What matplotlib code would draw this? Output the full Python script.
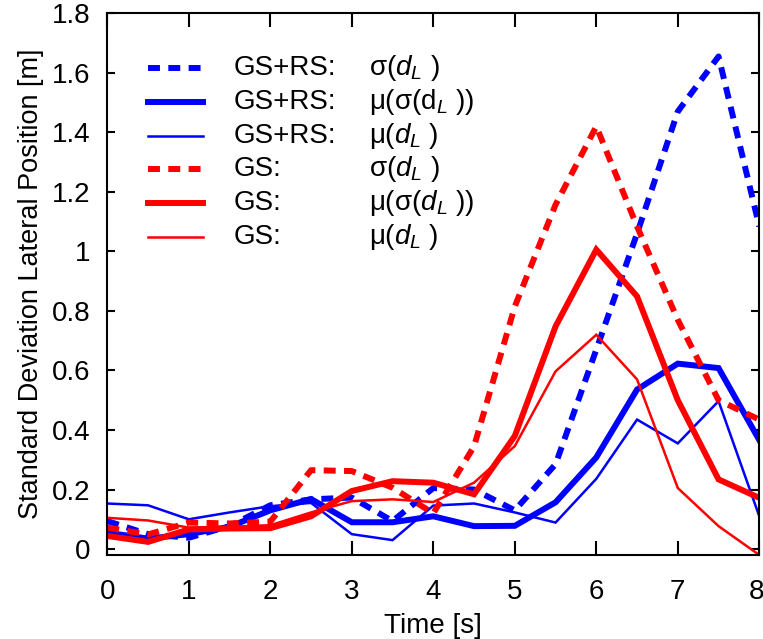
import matplotlib
matplotlib.use("Agg")
import matplotlib.pyplot as plt
import matplotlib.transforms as mtransforms
import numpy as np

plt.rcParams['font.family'] = ['Liberation Sans', 'DejaVu Sans']
plt.rcParams['mathtext.fontset'] = 'custom'
plt.rcParams['mathtext.rm'] = 'Liberation Sans'
plt.rcParams['mathtext.it'] = 'Liberation Sans:italic'

time = [0, 0.5, 1, 1.5, 2, 2.5, 3, 3.5, 4, 4.5, 5, 5.5, 6, 6.5, 7, 7.5, 8]

gsrs_sigma = [0.094, 0.05, 0.038, 0.077, 0.147, 0.167, 0.173, 0.094, 0.205, 0.2, 0.13, 0.285, 0.67, 1.06, 1.47, 1.655, 1.084]
gsrs_mu_sigma = [0.055, 0.035, 0.05, 0.075, 0.13, 0.168, 0.09, 0.09, 0.11, 0.077, 0.078, 0.157, 0.308, 0.536, 0.623, 0.608, 0.366]
gsrs_mu = [0.153, 0.147, 0.1, 0.123, 0.144, 0.155, 0.05, 0.03, 0.146, 0.153, 0.123, 0.089, 0.236, 0.435, 0.355, 0.497, 0.11]

gs_sigma = [0.072, 0.049, 0.089, 0.086, 0.092, 0.265, 0.262, 0.206, 0.12, 0.345, 0.815, 1.157, 1.42, 1.084, 0.77, 0.5, 0.435]
gs_mu_sigma = [0.044, 0.024, 0.066, 0.069, 0.07, 0.11, 0.195, 0.228, 0.223, 0.184, 0.38, 0.748, 1.006, 0.849, 0.5, 0.234, 0.172]
gs_mu = [0.105, 0.096, 0.072, 0.075, 0.08, 0.123, 0.161, 0.167, 0.158, 0.223, 0.346, 0.597, 0.72, 0.57, 0.205, 0.077, -0.02]

series = [
    (gsrs_sigma, 'blue', 4.3, 'dash', 'GS+RS:', r'σ($d_L$ )'),
    (gsrs_mu_sigma, 'blue', 4.3, 'solid', 'GS+RS:', r'μ(σ(d$_L$ ))'),
    (gsrs_mu, 'blue', 1.8, 'solid', 'GS+RS:', r'μ($d_L$ )'),
    (gs_sigma, 'red', 4.3, 'dash', 'GS:', r'σ($d_L$ )'),
    (gs_mu_sigma, 'red', 4.3, 'solid', 'GS:', r'μ(σ($d_L$ ))'),
    (gs_mu, 'red', 1.8, 'solid', 'GS:', r'μ($d_L$ )'),
]

FS = 20
W, H = 763, 639
fig = plt.figure(figsize=(W / 100, H / 100), dpi=100)
ax = fig.add_axes([107.3 / W, 1 - 555 / H, (759.3 - 107.3) / W, (555 - 13.3) / H])

for vals, col, lw, ls, _, _ in series:
    if ls == 'dash':
        ax.plot(time, vals, color=col, lw=lw, linestyle=(0, (2.0, 1.4)),
                dash_capstyle='butt', solid_joinstyle='miter')
    else:
        ax.plot(time, vals, color=col, lw=lw, solid_joinstyle='miter')

ax.set_xlim(0, 8)
ax.set_ylim(-0.02, 1.8)
ax.set_xticks(range(0, 9))
ax.set_yticks([0, 0.2, 0.4, 0.6, 0.8, 1.0, 1.2, 1.4, 1.6, 1.8])
ax.set_yticklabels(['0', '0.2', '0.4', '0.6', '0.8', '1', '1.2', '1.4', '1.6', '1.8'])
ax.tick_params(axis='x', direction='in', length=10, width=1.5, top=True, pad=17, labelsize=FS)
ax.tick_params(axis='y', direction='in', length=5.5, width=1.5, right=True, pad=12, labelsize=FS)
for s in ax.spines.values():
    s.set_linewidth(1.5)

# keep last x tick label inside the figure
lastlab = ax.get_xticklabels()[-1]
lastlab.set_transform(lastlab.get_transform() +
                      mtransforms.ScaledTranslation(-3 / 100, 0, fig.dpi_scale_trans))

ax.set_xlabel('Time [s]', fontsize=FS, labelpad=6)
ax.set_ylabel('Standard Deviation Lateral Position [m]', fontsize=19.5, labelpad=6)

# legend drawn manually
rows_y = [68.3, 101.7, 135.7, 169.3, 203.3, 237.3]
x0, x1 = 148.3, 203.3
for (vals, col, lw, ls, lab1, lab2), yp in zip(series, rows_y):
    yf = 1 - yp / H
    if ls == 'dash':
        fig.add_artist(plt.Line2D([x0 / W, x1 / W], [yf, yf], color=col, lw=lw,
                                  linestyle=(0, (2.0, 1.4)), dash_capstyle='butt'))
    else:
        fig.add_artist(plt.Line2D([x0 / W, x1 / W], [yf, yf], color=col, lw=lw))
    fig.text(233.3 / W, yf, lab1, fontsize=FS, va='center', ha='left')
    fig.text(369.3 / W, yf, lab2, fontsize=FS, va='center', ha='left')

fig.savefig('out.png', dpi=100)
